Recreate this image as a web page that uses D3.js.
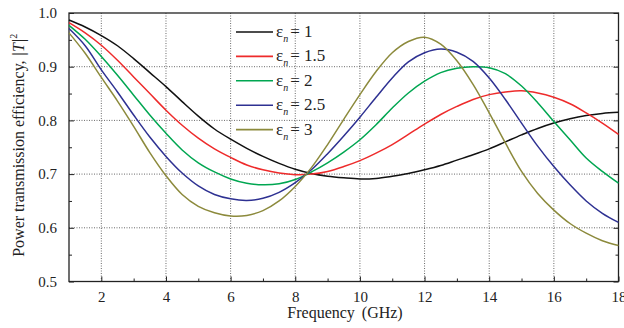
<!DOCTYPE html>
<html>
<head>
<meta charset="utf-8">
<script src="https://cdn.jsdelivr.net/npm/d3@7"></script>
<style>
  body { margin: 0; background: #fff; }
</style>
</head>
<body>
<div id="chart"></div>
<script>
const FONT = '"Liberation Serif", "DejaVu Serif", serif';

// frequency in GHz, read every half GHz
const freq = [1, 1.5, 2, 2.5, 3, 3.5, 4, 4.5, 5, 5.5, 6, 6.5, 7, 7.5, 8, 8.5, 9, 9.5,
              10, 10.5, 11, 11.5, 12, 12.5, 13, 13.5, 14, 14.5, 15, 15.5, 16, 16.5, 17, 17.5, 18];
const eps1  = [0.987, 0.974, 0.958, 0.939, 0.915, 0.889, 0.863, 0.835, 0.808, 0.784, 0.765, 0.748, 0.733, 0.720, 0.709, 0.701, 0.696, 0.693,
               0.691, 0.692, 0.696, 0.701, 0.708, 0.716, 0.726, 0.736, 0.747, 0.760, 0.773, 0.785, 0.795, 0.803, 0.809, 0.813, 0.815];
const eps15 = [0.982, 0.963, 0.940, 0.912, 0.881, 0.850, 0.819, 0.791, 0.767, 0.747, 0.731, 0.717, 0.708, 0.702, 0.699, 0.700, 0.705, 0.714,
               0.725, 0.739, 0.755, 0.774, 0.793, 0.811, 0.826, 0.839, 0.848, 0.853, 0.855, 0.851, 0.843, 0.831, 0.814, 0.795, 0.774];
const eps2  = [0.977, 0.951, 0.919, 0.884, 0.847, 0.810, 0.776, 0.745, 0.721, 0.704, 0.691, 0.683, 0.680, 0.682, 0.690, 0.704, 0.721, 0.741,
               0.764, 0.792, 0.823, 0.851, 0.873, 0.889, 0.897, 0.900, 0.898, 0.887, 0.864, 0.833, 0.798, 0.764, 0.730, 0.705, 0.683];
const eps25 = [0.971, 0.939, 0.894, 0.853, 0.810, 0.769, 0.733, 0.702, 0.678, 0.662, 0.654, 0.651, 0.655, 0.666, 0.684, 0.708, 0.738, 0.771,
               0.806, 0.843, 0.879, 0.909, 0.926, 0.933, 0.927, 0.910, 0.879, 0.839, 0.795, 0.752, 0.714, 0.680, 0.650, 0.627, 0.610];
const eps3  = [0.963, 0.925, 0.880, 0.836, 0.789, 0.740, 0.697, 0.662, 0.640, 0.628, 0.622, 0.623, 0.632, 0.650, 0.677, 0.712, 0.755, 0.802,
               0.848, 0.891, 0.926, 0.947, 0.955, 0.942, 0.911, 0.867, 0.814, 0.758, 0.705, 0.664, 0.633, 0.608, 0.590, 0.576, 0.567];

const seriesNames = ['1', '1.5', '2', '2.5', '3'];
const seriesValues = [eps1, eps15, eps2, eps25, eps3];
const colors = ['#111111', '#ee2b2b', '#00a651', '#2e3192', '#8c8a3c'];

const xTicks = [2, 4, 6, 8, 10, 12, 14, 16, 18];
const xMinorTicks = [3, 5, 7, 9, 11, 13, 15, 17];
const yTicks = [0.5, 0.6, 0.7, 0.8, 0.9, 1.0];
const yMinorTicks = [0.55, 0.65, 0.75, 0.85, 0.95];

const width = 624, height = 328;
const margin = { top: 13, right: 5.5, bottom: 46.5, left: 69 };
const plot = {
  left: margin.left,
  right: width - margin.right,
  top: margin.top,
  bottom: height - margin.bottom
};

const svg = d3.select('#chart')
  .append('svg')
  .attr('width', width)
  .attr('height', height)
  .style('font-family', FONT);

const xScale = d3.scaleLinear().domain([1, 18]).range([plot.left, plot.right]);
const yScale = d3.scaleLinear().domain([0.5, 1.0]).range([plot.bottom, plot.top]);

// dotted grid at the major ticks
const grid = svg.append('g').attr('class', 'grid')
  .attr('stroke', '#444').attr('stroke-width', 0.8).attr('stroke-dasharray', '1,1.5');
grid.selectAll('line.gx')
  .data(xTicks.filter(d => d < 18))
  .join('line')
  .attr('class', 'gx')
  .attr('x1', d => xScale(d)).attr('x2', d => xScale(d))
  .attr('y1', plot.top).attr('y2', plot.bottom);
grid.selectAll('line.gy')
  .data(yTicks.filter(d => d > 0.5 && d < 1.0))
  .join('line')
  .attr('class', 'gy')
  .attr('x1', plot.left).attr('x2', plot.right)
  .attr('y1', d => yScale(d)).attr('y2', d => yScale(d));

// axes, ticks pointing inward
const xAxis = d3.axisBottom(xScale).tickValues(xTicks).tickSize(-5).tickPadding(10).tickFormat(d3.format('d'));
const xMinor = d3.axisBottom(xScale).tickValues(xMinorTicks).tickSize(-3).tickFormat('');
const yAxis = d3.axisLeft(yScale).tickValues(yTicks).tickSize(-5).tickPadding(12).tickFormat(d3.format('.1f'));
const yMinor = d3.axisLeft(yScale).tickValues(yMinorTicks).tickSize(-3).tickFormat('');
const yRight = d3.axisRight(yScale).tickValues(yTicks).tickSize(-5).tickFormat('');
const yRightMinor = d3.axisRight(yScale).tickValues(yMinorTicks).tickSize(-3).tickFormat('');

function styleAxis(g) {
  g.attr('font-family', null);
  g.select('.domain').remove();
  g.selectAll('.tick line').attr('stroke', '#222').attr('stroke-width', 1);
  g.selectAll('.tick text').attr('font-size', 15).attr('fill', '#222').style('font-family', FONT);
}

svg.append('g').attr('transform', `translate(0,${plot.bottom})`).call(xAxis).call(styleAxis);
svg.append('g').attr('transform', `translate(0,${plot.bottom})`).call(xMinor).call(styleAxis);
svg.append('g').attr('transform', `translate(${plot.left},0)`).call(yAxis).call(styleAxis);
svg.append('g').attr('transform', `translate(${plot.left},0)`).call(yMinor).call(styleAxis);
svg.append('g').attr('transform', `translate(${plot.right},0)`).call(yRight).call(styleAxis);
svg.append('g').attr('transform', `translate(${plot.right},0)`).call(yRightMinor).call(styleAxis);

// frame
svg.append('rect')
  .attr('x', plot.left).attr('y', plot.top)
  .attr('width', plot.right - plot.left).attr('height', plot.bottom - plot.top)
  .attr('fill', 'none').attr('stroke', '#222').attr('stroke-width', 1.3);

// curves
const line = d3.line()
  .x((d, i) => xScale(freq[i]))
  .y(d => yScale(d))
  .curve(d3.curveCatmullRom.alpha(0.5));

svg.append('g').attr('class', 'curves')
  .selectAll('path')
  .data(seriesValues)
  .join('path')
  .attr('d', d => line(d))
  .attr('fill', 'none')
  .attr('stroke', (d, i) => colors[i])
  .attr('stroke-width', 1.5);

// legend
const legend = svg.append('g').attr('class', 'legend');
const rowY = i => 32 + i * 24.4;
seriesNames.forEach((name, i) => {
  legend.append('line')
    .attr('x1', 236).attr('x2', 273)
    .attr('y1', rowY(i)).attr('y2', rowY(i))
    .attr('stroke', colors[i]).attr('stroke-width', 1.6);
  const t = legend.append('text')
    .attr('x', 276).attr('y', rowY(i) + 5)
    .attr('font-size', 17).attr('fill', '#222')
    .style('font-family', FONT);
  t.append('tspan').text('ε');
  t.append('tspan').attr('font-size', 10).attr('font-style', 'italic').attr('dy', 5).text('n');
  t.append('tspan').attr('dy', -5).attr('dx', 2).text('= ' + name);
});

// axis titles
svg.append('text')
  .attr('x', 345)
  .attr('y', 318)
  .attr('text-anchor', 'middle')
  .attr('font-size', 16)
  .attr('fill', '#222')
  .attr('word-spacing', 3)
  .style('font-family', FONT)
  .text('Frequency (GHz)');

const yt = svg.append('text')
  .attr('transform', `translate(24,${(plot.top + plot.bottom) / 2 - 2}) rotate(-90)`)
  .attr('text-anchor', 'middle')
  .attr('font-size', 16)
  .attr('fill', '#222')
  .style('font-family', FONT);
yt.append('tspan').text('Power transmission efficiency,  ');
yt.append('tspan').attr('font-style', 'italic').text('|T|');
yt.append('tspan').attr('font-size', 10).attr('dy', -7).text('2');
</script>
</body>
</html>
